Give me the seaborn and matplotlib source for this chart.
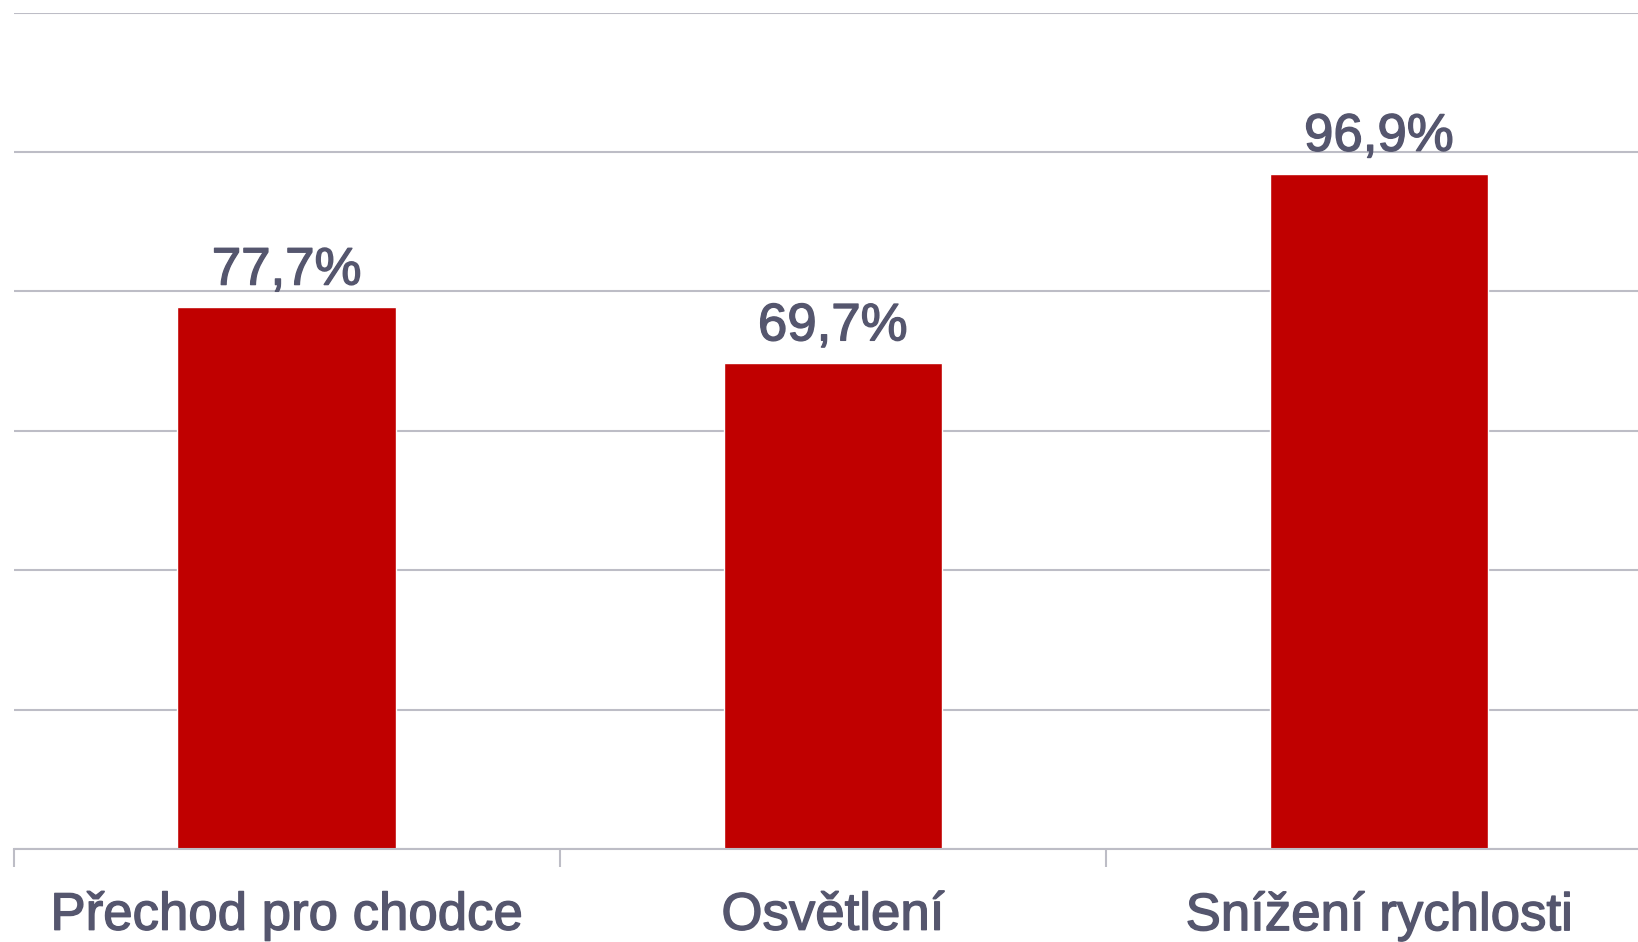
import matplotlib
matplotlib.use("Agg")
import matplotlib.pyplot as plt
import matplotlib.patheffects as pe
import seaborn as sns
import pandas as pd

categories = ["Přechod pro chodce", "Osvětlení", "Snížení rychlosti"]
values = [77.7, 69.7, 96.9]
value_labels = ["77,7%", "69,7%", "96,9%"]
y_ticks = [0, 20, 40, 60, 80, 100, 120]

sns.set_style("white")
plt.rcParams['font.family'] = ['Liberation Sans', 'DejaVu Sans']

TEXT = "#55566E"
stroke = [pe.withStroke(linewidth=1.0, foreground=TEXT)]

df = pd.DataFrame({"cat": categories, "val": values})

fig = plt.figure(figsize=(16.38, 9.42), dpi=100)
ax = fig.add_axes([0.0083, 0.0987, 1.0002, 0.888])

sns.barplot(data=df, x="cat", y="val", color="#C00000", saturation=1, width=0.4, ax=ax)

ax.set_ylim(0, 120)
ax.set_xlim(-0.5, 2.5)
ax.set_yticks(y_ticks)
ax.yaxis.grid(True, color="#BDBDC6", linewidth=1.5)
ax.set_axisbelow(True)
ax.tick_params(axis="y", left=False, labelleft=False)
for s in ["top", "right", "left"]:
    ax.spines[s].set_visible(False)
ax.spines["bottom"].set_color("#BDBDC6")
ax.spines["bottom"].set_linewidth(1.5)

ax.set_xticks(range(len(categories)))
ax.set_xticklabels(categories, fontsize=38, color=TEXT)
for t in ax.get_xticklabels():
    t.set_path_effects(stroke)
ax.tick_params(axis="x", which="major", bottom=True, length=0, pad=30)
ax.set_xticks([-0.5, 0.5, 1.5, 2.5], minor=True)
ax.tick_params(axis="x", which="minor", bottom=True, direction="out",
               length=13, width=1.5, color="#BDBDC6")
ax.set_xlabel("")
ax.set_ylabel("")

for i, (v, lab) in enumerate(zip(values, value_labels)):
    ax.annotate(lab, (i, v), xytext=(0, 8.5), textcoords="offset points",
                ha="center", va="bottom", fontsize=38, color=TEXT,
                path_effects=stroke)

fig.savefig("out.png", dpi=100)
